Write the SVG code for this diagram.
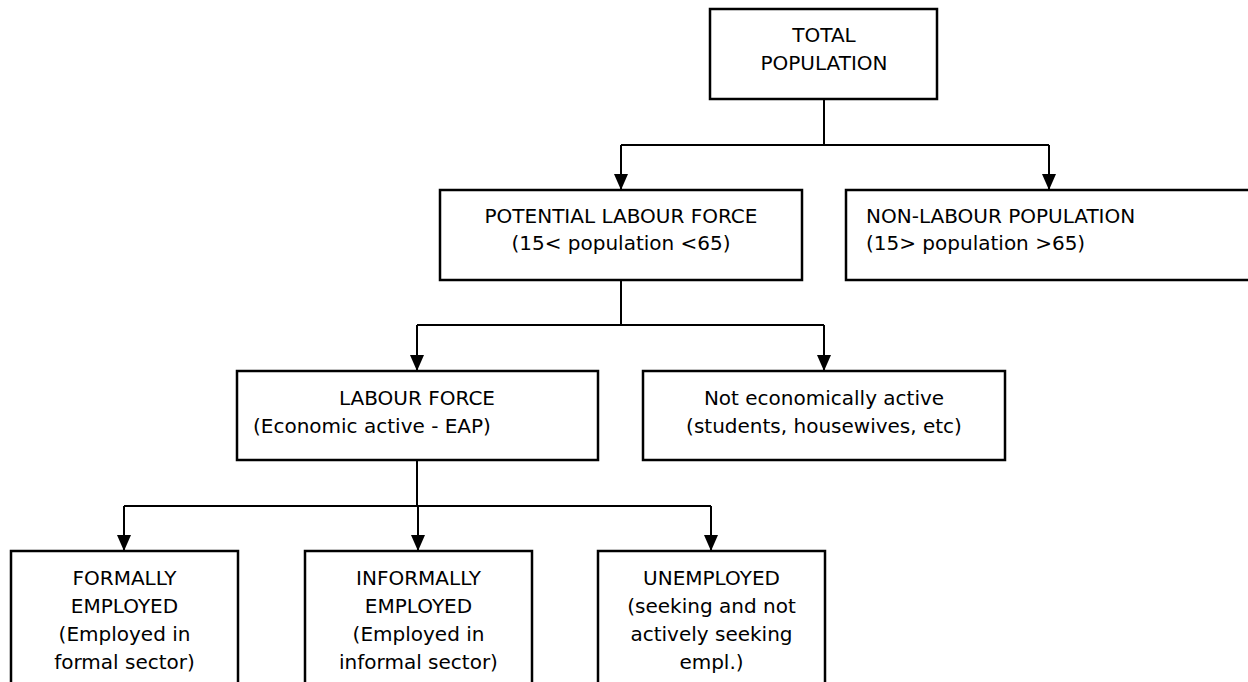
<svg xmlns="http://www.w3.org/2000/svg" width="1248" height="682" viewBox="0 0 1248 682">
<defs>
<style>
.box{fill:#fff;stroke:#000;stroke-width:2.5}
.t{font-family:"DejaVu Sans","Liberation Sans",sans-serif;font-size:20px;fill:#000}
.c{text-anchor:middle}
.ln{fill:none;stroke:#000;stroke-width:2}
</style>
<marker id="ah" viewBox="0 0 16 14" refX="16" refY="7" markerWidth="16" markerHeight="14" markerUnits="userSpaceOnUse" orient="auto">
<path d="M0,0 L16,7 L0,14 Z" fill="#000"/>
</marker>
</defs>
<rect width="1248" height="682" fill="#fff"/>
<g id="connectors">
<path class="ln" d="M824,99 V145"/>
<path class="ln" d="M621,145 H1049"/>
<path class="ln" d="M621,145 V190" marker-end="url(#ah)"/>
<path class="ln" d="M1049,145 V190" marker-end="url(#ah)"/>
<path class="ln" d="M621,280 V325"/>
<path class="ln" d="M417,325 H824"/>
<path class="ln" d="M417,325 V371" marker-end="url(#ah)"/>
<path class="ln" d="M824,325 V371" marker-end="url(#ah)"/>
<path class="ln" d="M417,460 V506"/>
<path class="ln" d="M124,506 H711"/>
<path class="ln" d="M124,506 V551" marker-end="url(#ah)"/>
<path class="ln" d="M418,506 V551" marker-end="url(#ah)"/>
<path class="ln" d="M711,506 V551" marker-end="url(#ah)"/>
</g>
<g id="total">
<rect class="box" x="710" y="9" width="227" height="90"/>
<text class="t c" x="824" y="42">TOTAL</text>
<text class="t c" x="824" y="70">POPULATION</text>
</g>
<g id="potential">
<rect class="box" x="440" y="190" width="362" height="90"/>
<text class="t c" x="621" y="223">POTENTIAL LABOUR FORCE</text>
<text class="t c" x="621" y="250">(15&lt; population &lt;65)</text>
</g>
<g id="nonlabour">
<rect class="box" x="846" y="190" width="406" height="90"/>
<text class="t" x="866" y="223">NON-LABOUR POPULATION</text>
<text class="t" x="866" y="250">(15&gt; population &gt;65)</text>
</g>
<g id="labour">
<rect class="box" x="237" y="371" width="361" height="89"/>
<text class="t c" x="417" y="405">LABOUR FORCE</text>
<text class="t" x="253" y="433">(Economic active - EAP)</text>
</g>
<g id="notactive">
<rect class="box" x="643" y="371" width="362" height="89"/>
<text class="t c" x="824" y="405">Not economically active</text>
<text class="t c" x="824" y="433">(students, housewives, etc)</text>
</g>
<g id="formal">
<rect class="box" x="11" y="551" width="227" height="160"/>
<text class="t c" x="124.5" y="585">FORMALLY</text>
<text class="t c" x="124.5" y="613">EMPLOYED</text>
<text class="t c" x="124.5" y="641">(Employed in</text>
<text class="t c" x="124.5" y="669">formal sector)</text>
</g>
<g id="informal">
<rect class="box" x="305" y="551" width="227" height="160"/>
<text class="t c" x="418.5" y="585">INFORMALLY</text>
<text class="t c" x="418.5" y="613">EMPLOYED</text>
<text class="t c" x="418.5" y="641">(Employed in</text>
<text class="t c" x="418.5" y="669">informal sector)</text>
</g>
<g id="unemployed">
<rect class="box" x="598" y="551" width="227" height="160"/>
<text class="t c" x="711.5" y="585">UNEMPLOYED</text>
<text class="t c" x="711.5" y="613">(seeking and not</text>
<text class="t c" x="711.5" y="641">actively seeking</text>
<text class="t c" x="711.5" y="669">empl.)</text>
</g>
</svg>
